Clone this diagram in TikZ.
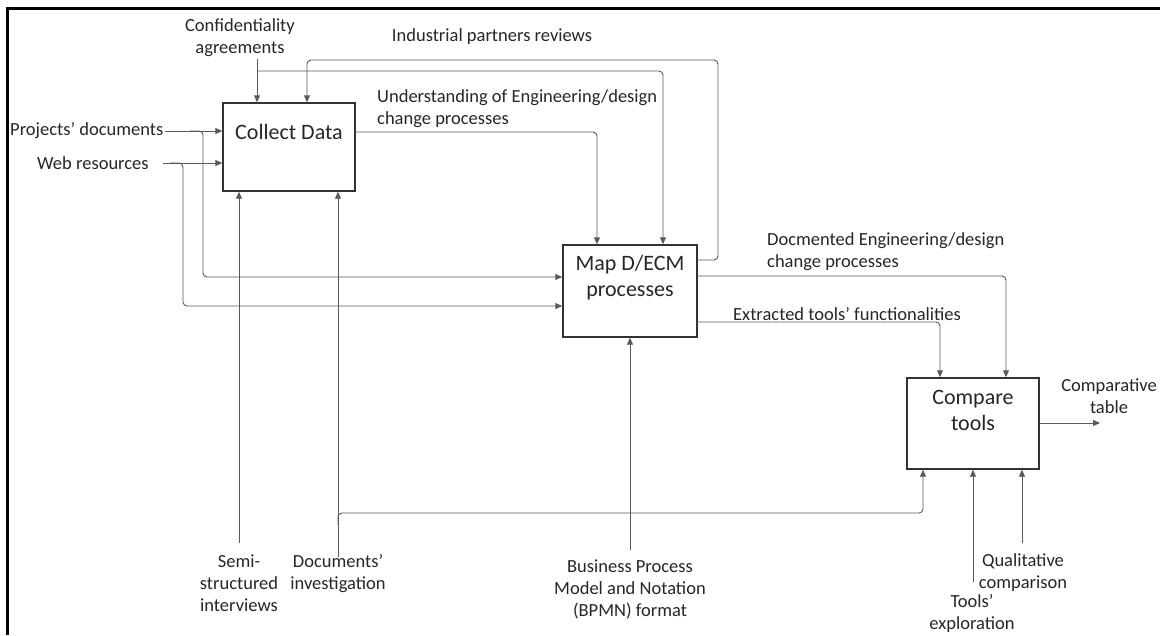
\documentclass[tikz,border=0pt]{standalone}
\usepackage{fontspec}
\setmainfont{Carlito}
\usetikzlibrary{arrows.meta}
\begin{document}
\begin{tikzpicture}[x=1pt,y=-1pt,
  box/.style={draw=black!80,line width=1.4pt,rectangle,inner sep=0pt},
  boxtext/.style={align=center,font=\fontsize{22}{26}\selectfont,text=black!85,inner sep=0pt},
  lbl/.style={align=center,font=\fontsize{18.5}{22}\selectfont,text=black!85,inner sep=0pt},
  lbll/.style={lbl,align=left,anchor=west},
  conn/.style={draw=black!65,line width=0.9pt,rounded corners=4pt},
  arr/.style={conn,-{Triangle[length=7pt,width=6pt]}}
]
\useasboundingbox (0,0) rectangle (1160,635);
% frame
\draw[line width=2.5pt] (7.5,635) -- (7.5,8.5) -- (1160,8.5);

% boxes
\node[box,minimum width=132pt,minimum height=88pt] (cd) at (289,147) {};
\node[boxtext] (cdt) at (289,132) {Collect Data};
\node[box,minimum width=134pt,minimum height=92pt] (map) at (630,291) {};
\node[boxtext] (mapt) at (630,278) {Map D/ECM\\processes};
\node[box,minimum width=132pt,minimum height=91pt] (cmp) at (973,423.5) {};
\node[boxtext] (cmpt) at (973,410) {Compare\\tools};

% labels
\node[lbll] (proj) at (10,131) {Projects’ documents};
\node[lbll] (web) at (37,163) {Web resources};
\node[lbl] (conf) at (240,38) {Confidentiality\\agreements};
\node[lbl] (ind) at (492,37) {Industrial partners reviews};
\node[lbll] (und) at (377,109) {Understanding of Engineering/design\\change processes};
\node[lbll] (docm) at (767,252) {Docmented Engineering/design\\change processes};
\node[lbll] (ext) at (733,314) {Extracted tools’ functionalities};
\node[lbl] (ctab) at (1109,396) {Comparative\\table};
\node[lbl] (semi) at (239,583) {Semi-\\structured\\interviews};
\node[lbl] (docs) at (338,574) {Documents’\\investigation};
\node[lbl] (bpmn) at (630,589) {Business Process\\Model and Notation\\(BPMN) format};
\node[lbl] (tools) at (972,613) {Tools’\\exploration};
\node[lbl] (qual) at (1023,573) {Qualitative\\comparison};

% named free ends
\coordinate (projE) at (165,131);
\coordinate (webE) at (163,163);
\coordinate (confE) at (257,59);
\coordinate (semiE) at (239,543);
\coordinate (docsE) at (338,557);
\coordinate (bpmnE) at (630,550);
\coordinate (toolsE) at (973,582);
\coordinate (qualE) at (1022,543);
\coordinate (ctabE) at (1100,423);

% inputs to Collect Data
\draw[arr] (projE) -- (cd.west |- projE);
\draw[arr] (webE) -- (cd.west |- webE);
\draw[arr] (confE) -- (confE |- cd.north);
\draw[arr] (semiE) -- (semiE |- cd.south);
\draw[arr] (docsE) -- (docsE |- cd.south);

% branches to Map
\draw[arr] (190,131) -- (203,131) -- (203,277) -- (map.west |- 0,277);
\draw[arr] (170,163) -- (183,163) -- (183,306) -- (map.west |- 0,306);
\draw[arr] (257,71) -- (663,71) -- (663,0 |- map.north);
\draw[arr] (cd.east |- 0,132) -- (597,132) -- (597,0 |- map.north);
\draw[arr] (map.east |- 0,260) -- (718,260) -- (718,60) -- (307,60) -- (307,0 |- cd.north);
\draw[arr] (bpmnE) -- (bpmnE |- map.south);

% to Compare
\draw[arr] (map.east |- 0,276) -- (1006,276) -- (1006,0 |- cmp.north);
\draw[arr] (map.east |- 0,322) -- (940,322) -- (940,0 |- cmp.north);
\draw[arr] (338,525) -- (338,513) -- (923,513) -- (923,0 |- cmp.south);
\draw[arr] (toolsE) -- (toolsE |- cmp.south);
\draw[arr] (qualE) -- (qualE |- cmp.south);
\draw[arr] (cmp.east |- ctabE) -- (ctabE);
\end{tikzpicture}
\end{document}
